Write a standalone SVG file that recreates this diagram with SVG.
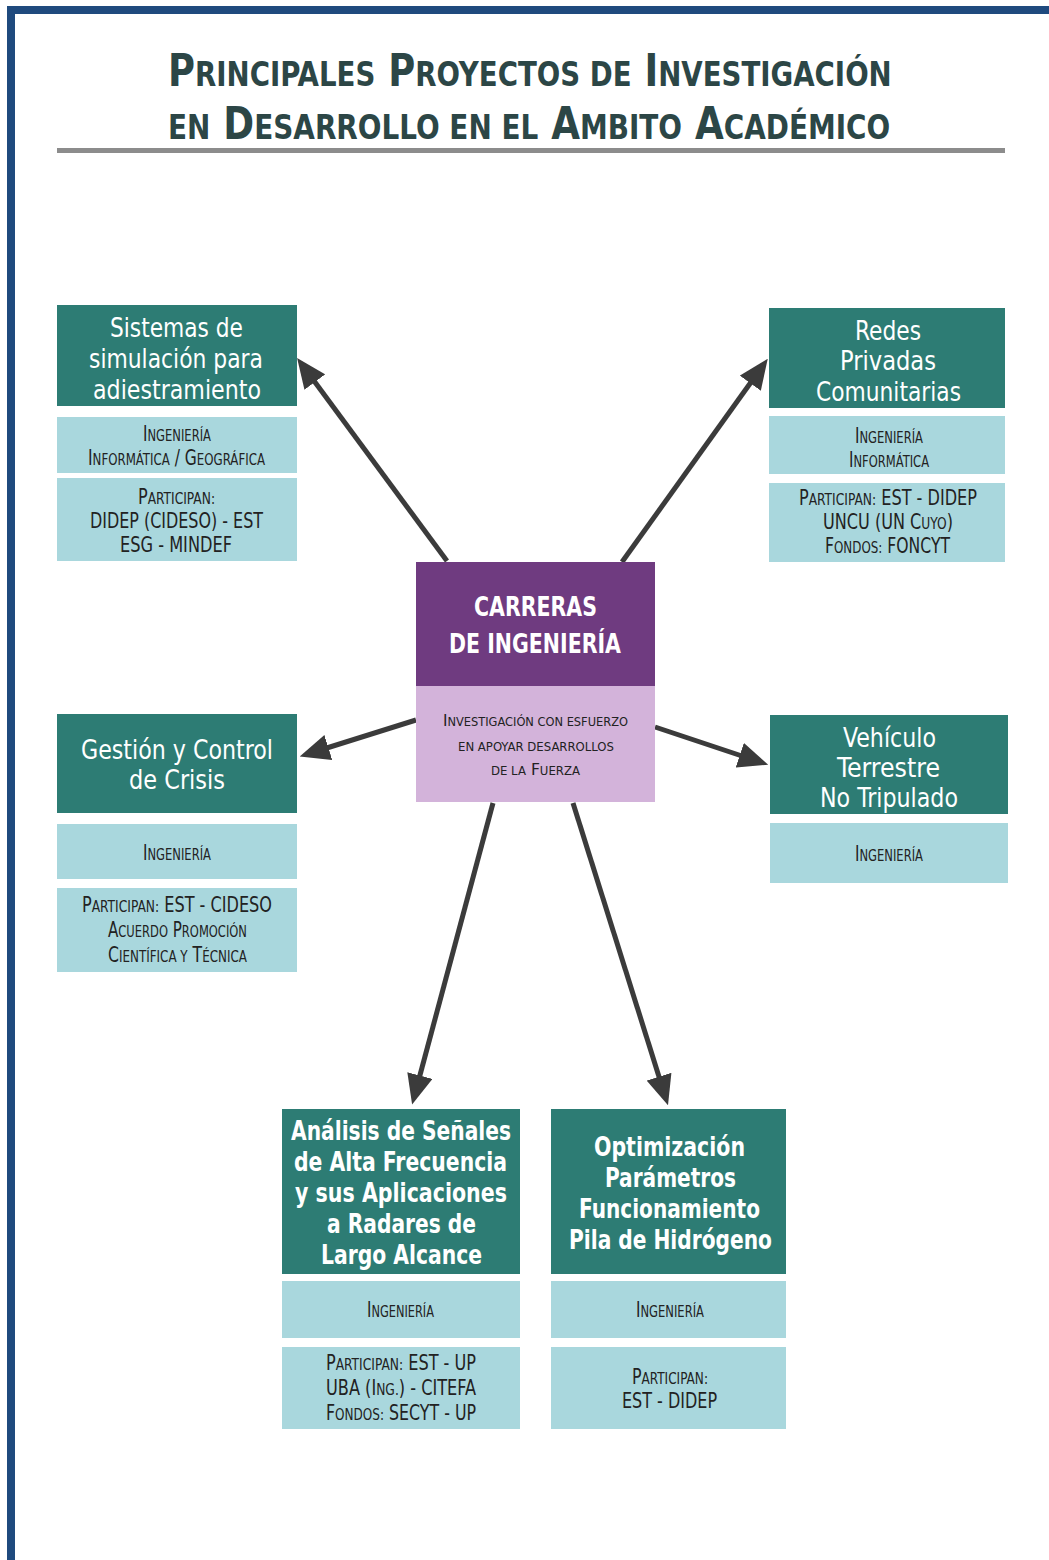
<svg xmlns="http://www.w3.org/2000/svg" width="1049" height="1560" viewBox="0 0 1049 1560">
<style>
.title{font-family:"DejaVu Sans Condensed","DejaVu Sans",sans-serif;font-weight:bold;font-size:44px;fill:#2c4646}
.ts{font-size:33px}
.dk{fill:#2d7c74}
.lt{fill:#a9d7dd}
.pu{fill:#6f3b80}
.lp{fill:#d3b3da}
.ht{font-family:"DejaVu Sans Condensed","DejaVu Sans",sans-serif;font-size:26px;fill:#ffffff}
.hb{font-weight:bold}
.bt{font-family:"DejaVu Sans Condensed","DejaVu Sans",sans-serif;font-size:21px;fill:#222222}
.s{font-size:16px}
.ct{font-family:"DejaVu Sans Condensed","DejaVu Sans",sans-serif;font-size:16px;fill:#222222}
.cs{font-size:12px}
.arrow{stroke:#3b3b3b;stroke-width:5;fill:none;marker-end:url(#ah)}
</style>
<defs>
<marker id="ah" markerUnits="userSpaceOnUse" viewBox="0 0 30 26" refX="15" refY="13" markerWidth="30" markerHeight="26" orient="auto">
<path d="M0,0 L30,13 L0,26 Z" fill="#3b3b3b"/>
</marker>
</defs>
<rect x="0" y="0" width="1049" height="1560" fill="#ffffff"/>
<g id="frame">
<rect x="7" y="6" width="1042" height="8" fill="#1f4a7e"/>
<rect x="7" y="6" width="8" height="1554" fill="#1f4a7e"/>
</g>
<g id="title">
<text class="title" transform="matrix(0.75 0 0 1 168 86)" textLength="965" lengthAdjust="spacingAndGlyphs">P<tspan class="ts">RINCIPALES</tspan> P<tspan class="ts">ROYECTOS DE</tspan> I<tspan class="ts">NVESTIGACIÓN</tspan></text>
<text class="title" transform="matrix(0.75 0 0 1 168 139)" textLength="963" lengthAdjust="spacingAndGlyphs"><tspan class="ts">EN</tspan> D<tspan class="ts">ESARROLLO EN EL</tspan> A<tspan class="ts">MBITO</tspan> A<tspan class="ts">CADÉMICO</tspan></text>
<rect x="57" y="148" width="948" height="5" fill="#8c8c8c"/>
</g>
<g id="connectors">
<line class="arrow" x1="447" y1="561" x2="306" y2="370"/>
<line class="arrow" x1="622" y1="562" x2="759" y2="371"/>
<line class="arrow" x1="416" y1="720" x2="314" y2="752"/>
<line class="arrow" x1="655" y1="727" x2="754" y2="760"/>
<line class="arrow" x1="493" y1="803" x2="416" y2="1090"/>
<line class="arrow" x1="573" y1="803" x2="663.5" y2="1091"/>
</g>
<g id="n-sistemas">
<rect class="dk" x="57" y="305" width="240" height="101"/>
<rect class="lt" x="57" y="417" width="240" height="56"/>
<rect class="lt" x="57" y="478" width="240" height="83"/>
<text class="ht" x="110" y="337" textLength="133" lengthAdjust="spacingAndGlyphs">Sistemas de</text>
<text class="ht" x="89" y="368" textLength="174" lengthAdjust="spacingAndGlyphs">simulación para</text>
<text class="ht" x="93" y="399" textLength="168" lengthAdjust="spacingAndGlyphs">adiestramiento</text>
<text class="bt" transform="matrix(0.65 0 0 1 143 441)" textLength="104.6" lengthAdjust="spacingAndGlyphs">I<tspan class="s">NGENIERÍA</tspan></text>
<text class="bt" transform="matrix(0.65 0 0 1 88 465)" textLength="272.3" lengthAdjust="spacingAndGlyphs">I<tspan class="s">NFORMÁTICA</tspan> / G<tspan class="s">EOGRÁFICA</tspan></text>
<text class="bt" transform="matrix(0.65 0 0 1 138 504)" textLength="118.5" lengthAdjust="spacingAndGlyphs">P<tspan class="s">ARTICIPAN:</tspan></text>
<text class="bt" transform="matrix(0.65 0 0 1 90 528)" textLength="266.2" lengthAdjust="spacingAndGlyphs">DIDEP (CIDESO) - EST</text>
<text class="bt" transform="matrix(0.65 0 0 1 120 552)" textLength="172.3" lengthAdjust="spacingAndGlyphs">ESG - MINDEF</text>
</g>
<g id="n-redes">
<rect class="dk" x="769" y="308" width="236" height="100"/>
<rect class="lt" x="769" y="416" width="236" height="58"/>
<rect class="lt" x="769" y="483" width="236" height="79"/>
<text class="ht" x="855" y="340" textLength="66" lengthAdjust="spacingAndGlyphs">Redes</text>
<text class="ht" x="840" y="370" textLength="96" lengthAdjust="spacingAndGlyphs">Privadas</text>
<text class="ht" x="816" y="401" textLength="145" lengthAdjust="spacingAndGlyphs">Comunitarias</text>
<text class="bt" transform="matrix(0.65 0 0 1 855 443)" textLength="104.6" lengthAdjust="spacingAndGlyphs">I<tspan class="s">NGENIERÍA</tspan></text>
<text class="bt" transform="matrix(0.65 0 0 1 849 467)" textLength="123.1" lengthAdjust="spacingAndGlyphs">I<tspan class="s">NFORMÁTICA</tspan></text>
<text class="bt" transform="matrix(0.65 0 0 1 799 505)" textLength="273.8" lengthAdjust="spacingAndGlyphs">P<tspan class="s">ARTICIPAN:</tspan> EST - DIDEP</text>
<text class="bt" transform="matrix(0.65 0 0 1 823 529)" textLength="200" lengthAdjust="spacingAndGlyphs">UNCU (UN C<tspan class="s">UYO</tspan>)</text>
<text class="bt" transform="matrix(0.65 0 0 1 825 553)" textLength="192.3" lengthAdjust="spacingAndGlyphs">F<tspan class="s">ONDOS:</tspan> FONCYT</text>
</g>
<g id="n-carreras">
<rect class="pu" x="416" y="562" width="239" height="124"/>
<rect class="lp" x="416" y="686" width="239" height="116"/>
<text class="ht hb" x="474" y="616" textLength="123" lengthAdjust="spacingAndGlyphs">CARRERAS</text>
<text class="ht hb" x="449" y="653" textLength="172" lengthAdjust="spacingAndGlyphs">DE INGENIERÍA</text>
<text class="ct" transform="matrix(0.65 0 0 1 443 726)" textLength="284.6" lengthAdjust="spacingAndGlyphs">I<tspan class="cs">NVESTIGACIÓN CON ESFUERZO</tspan></text>
<text class="ct" transform="matrix(0.65 0 0 1 458 751)" textLength="240" lengthAdjust="spacingAndGlyphs"><tspan class="cs">EN APOYAR DESARROLLOS</tspan></text>
<text class="ct" transform="matrix(0.65 0 0 1 491 775)" textLength="136.9" lengthAdjust="spacingAndGlyphs"><tspan class="cs">DE LA</tspan> F<tspan class="cs">UERZA</tspan></text>
</g>
<g id="n-gestion">
<rect class="dk" x="57" y="714" width="240" height="99"/>
<rect class="lt" x="57" y="824" width="240" height="55"/>
<rect class="lt" x="57" y="888" width="240" height="84"/>
<text class="ht" x="81" y="759" textLength="192" lengthAdjust="spacingAndGlyphs">Gestión y Control</text>
<text class="ht" x="129" y="789" textLength="96" lengthAdjust="spacingAndGlyphs">de Crisis</text>
<text class="bt" transform="matrix(0.65 0 0 1 143 860)" textLength="104.6" lengthAdjust="spacingAndGlyphs">I<tspan class="s">NGENIERÍA</tspan></text>
<text class="bt" transform="matrix(0.65 0 0 1 82 912)" textLength="292.3" lengthAdjust="spacingAndGlyphs">P<tspan class="s">ARTICIPAN:</tspan> EST - CIDESO</text>
<text class="bt" transform="matrix(0.65 0 0 1 108 937)" textLength="213.8" lengthAdjust="spacingAndGlyphs">A<tspan class="s">CUERDO</tspan> P<tspan class="s">ROMOCIÓN</tspan></text>
<text class="bt" transform="matrix(0.65 0 0 1 108 962)" textLength="213.8" lengthAdjust="spacingAndGlyphs">C<tspan class="s">IENTÍFICA Y</tspan> T<tspan class="s">ÉCNICA</tspan></text>
</g>
<g id="n-vehiculo">
<rect class="dk" x="770" y="715" width="238" height="99"/>
<rect class="lt" x="770" y="823" width="238" height="60"/>
<text class="ht" x="843" y="747" textLength="93" lengthAdjust="spacingAndGlyphs">Vehículo</text>
<text class="ht" x="837" y="777" textLength="103" lengthAdjust="spacingAndGlyphs">Terrestre</text>
<text class="ht" x="820" y="807" textLength="138" lengthAdjust="spacingAndGlyphs">No Tripulado</text>
<text class="bt" transform="matrix(0.65 0 0 1 855 861)" textLength="104.6" lengthAdjust="spacingAndGlyphs">I<tspan class="s">NGENIERÍA</tspan></text>
</g>
<g id="n-analisis">
<rect class="dk" x="282" y="1109" width="238" height="165"/>
<rect class="lt" x="282" y="1281" width="238" height="57"/>
<rect class="lt" x="282" y="1347" width="238" height="82"/>
<text class="ht hb" x="291" y="1140" textLength="220" lengthAdjust="spacingAndGlyphs">Análisis de Señales</text>
<text class="ht hb" x="294" y="1171" textLength="213" lengthAdjust="spacingAndGlyphs">de Alta Frecuencia</text>
<text class="ht hb" x="295" y="1202" textLength="212" lengthAdjust="spacingAndGlyphs">y sus Aplicaciones</text>
<text class="ht hb" x="327" y="1233" textLength="149" lengthAdjust="spacingAndGlyphs">a Radares de</text>
<text class="ht hb" x="321" y="1264" textLength="161" lengthAdjust="spacingAndGlyphs">Largo Alcance</text>
<text class="bt" transform="matrix(0.65 0 0 1 367 1317)" textLength="103.1" lengthAdjust="spacingAndGlyphs">I<tspan class="s">NGENIERÍA</tspan></text>
<text class="bt" transform="matrix(0.65 0 0 1 326 1370)" textLength="230.8" lengthAdjust="spacingAndGlyphs">P<tspan class="s">ARTICIPAN:</tspan> EST - UP</text>
<text class="bt" transform="matrix(0.65 0 0 1 326 1395)" textLength="230.8" lengthAdjust="spacingAndGlyphs">UBA (I<tspan class="s">NG.</tspan>) - CITEFA</text>
<text class="bt" transform="matrix(0.65 0 0 1 326 1420)" textLength="230.8" lengthAdjust="spacingAndGlyphs">F<tspan class="s">ONDOS:</tspan> SECYT - UP</text>
</g>
<g id="n-optimizacion">
<rect class="dk" x="551" y="1109" width="235" height="165"/>
<rect class="lt" x="551" y="1281" width="235" height="57"/>
<rect class="lt" x="551" y="1347" width="235" height="82"/>
<text class="ht hb" x="594" y="1156" textLength="151" lengthAdjust="spacingAndGlyphs">Optimización</text>
<text class="ht hb" x="605" y="1187" textLength="131" lengthAdjust="spacingAndGlyphs">Parámetros</text>
<text class="ht hb" x="579" y="1218" textLength="181" lengthAdjust="spacingAndGlyphs">Funcionamiento</text>
<text class="ht hb" x="569" y="1249" textLength="203" lengthAdjust="spacingAndGlyphs">Pila de Hidrógeno</text>
<text class="bt" transform="matrix(0.65 0 0 1 636 1317)" textLength="104.6" lengthAdjust="spacingAndGlyphs">I<tspan class="s">NGENIERÍA</tspan></text>
<text class="bt" transform="matrix(0.65 0 0 1 632 1384)" textLength="116.9" lengthAdjust="spacingAndGlyphs">P<tspan class="s">ARTICIPAN:</tspan></text>
<text class="bt" transform="matrix(0.65 0 0 1 622 1408)" textLength="146.2" lengthAdjust="spacingAndGlyphs">EST - DIDEP</text>
</g>
</svg>
